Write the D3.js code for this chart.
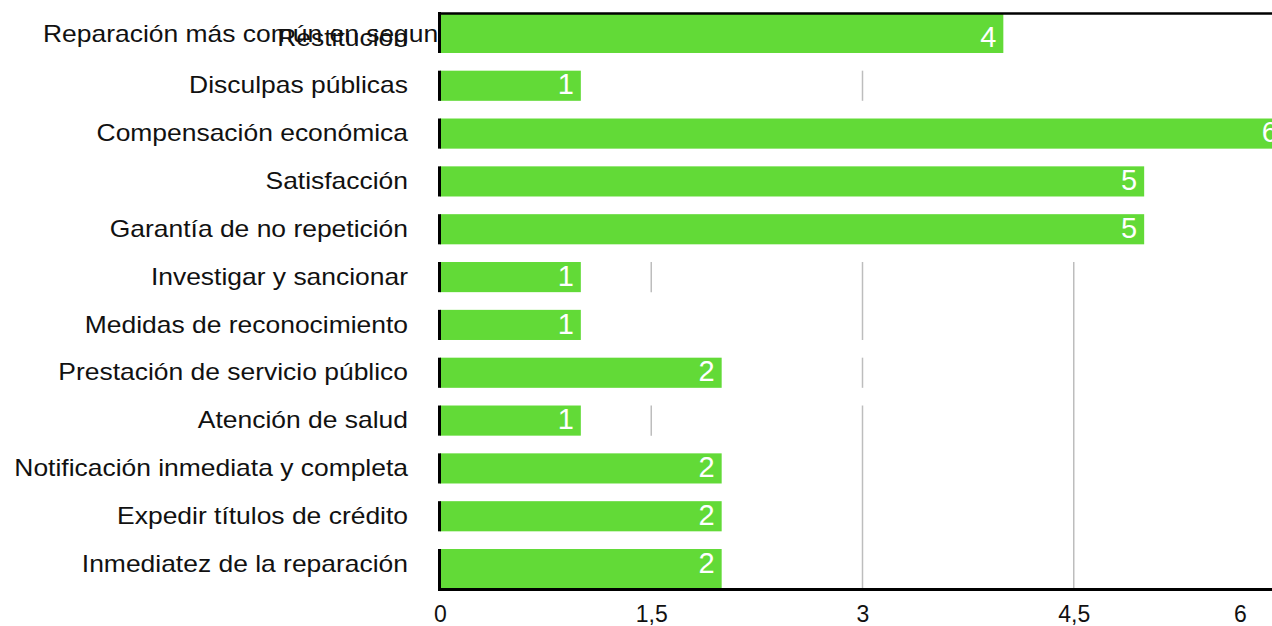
<!DOCTYPE html>
<html>
<head>
<meta charset="utf-8">
<script src="https://cdn.jsdelivr.net/npm/d3@7"></script>
<style>
  body { margin: 0; background: #fff; }
  svg { display: block; font-family: "Liberation Sans", Arial, sans-serif; }
</style>
</head>
<body>
<svg id="chart"></svg>
<script>
var title = "Reparación más común en segun";
var categories = ["Restitución", "Disculpas públicas", "Compensación económica", "Satisfacción",
  "Garantía de no repetición", "Investigar y sancionar", "Medidas de reconocimiento",
  "Prestación de servicio público", "Atención de salud", "Notificación inmediata y completa",
  "Expedir títulos de crédito", "Inmediatez de la reparación"];
var values = [4, 1, 6, 5, 5, 1, 1, 2, 1, 2, 2, 2];
var ticks = [0, 1.5, 3, 4.5, 6];
// gridline pieces that show in the picture: [tick, first row, last row]
var gridPieces = [[3, 1, 1], [3, 5, 6], [3, 7, 7], [3, 8, 11], [4.5, 5, 11], [1.5, 5, 5], [1.5, 8, 8]];

var width = 1272, height = 626;
var margin = {left: 440, top: 14, bottom: 588};
var green = "#62da37";
var stretch = 1.15;  // labels in the picture are drawn a bit wide

var svg = d3.select("#chart").attr("width", width).attr("height", height);

var x = d3.scaleLinear().domain([0, 6]).range([margin.left, 1285]);
var y = d3.scaleBand().domain(categories).range([margin.top, margin.bottom]).padding(0);
var barH = y.bandwidth() * 0.63;

// top and bottom of a bar; first and last bars stretch to the frame
function barTop(i) {
  return i === 0 ? margin.top : y(categories[i]) + (y.bandwidth() - barH) / 2;
}
function barBottom(i) {
  return i === categories.length - 1 ? margin.bottom : y(categories[i]) + (y.bandwidth() + barH) / 2;
}

// title, drawn first so bars sit on top
svg.append("text")
  .attr("transform", "translate(43,42) scale(" + stretch + ",1)")
  .style("font-size", "23px")
  .attr("fill", "#111")
  .text(title);

// gridlines
svg.append("g").selectAll("line")
  .data(gridPieces)
  .enter().append("line")
    .attr("x1", function(d) { return x(d[0]); })
    .attr("x2", function(d) { return x(d[0]); })
    .attr("y1", function(d) { return barTop(d[1]); })
    .attr("y2", function(d) { return barBottom(d[2]); })
    .attr("stroke", "#bdbdbd")
    .attr("stroke-width", 1.5);

// category labels
svg.append("g").selectAll("text")
  .data(categories)
  .enter().append("text")
    .attr("transform", function(d) {
      return "translate(408," + (y(d) + y.bandwidth() / 2 + 7.6) + ") scale(" + stretch + ",1)";
    })
    .attr("text-anchor", "end")
    .style("font-size", "23px")
    .attr("fill", "#111")
    .text(function(d) { return d; });

// bars
svg.append("g").selectAll("rect")
  .data(values)
  .enter().append("rect")
    .attr("x", x(0))
    .attr("y", function(d, i) { return barTop(i); })
    .attr("width", function(d) { return x(d) - x(0); })
    .attr("height", function(d, i) { return barBottom(i) - barTop(i); })
    .attr("fill", green);

// left axis pieces beside each bar
svg.append("g").selectAll("line")
  .data(values)
  .enter().append("line")
    .attr("x1", x(0) - 0.5).attr("x2", x(0) - 0.5)
    .attr("y1", function(d, i) { return i === 0 ? margin.top - 2 : barTop(i); })
    .attr("y2", function(d, i) { return barBottom(i); })
    .attr("stroke", "#000").attr("stroke-width", 3);

// value labels
svg.append("g").selectAll("text")
  .data(values)
  .enter().append("text")
    .attr("x", function(d) { return x(d) - 7; })
    .attr("y", function(d, i) { return y(categories[i]) + y.bandwidth() / 2 + 8.7; })
    .attr("text-anchor", "end")
    .style("font-size", "29px")
    .attr("fill", "#fff")
    .text(function(d) { return d; });

// top frame line
svg.append("line")
  .attr("x1", x(0) - 2).attr("x2", width)
  .attr("y1", 13.5).attr("y2", 13.5)
  .attr("stroke", "#000").attr("stroke-width", 2.5);

// x axis
var xAxis = d3.axisBottom(x)
  .tickValues(ticks)
  .tickSize(0)
  .tickFormat(function(d) { return String(d).replace(".", ","); });

var gx = svg.append("g")
  .attr("transform", "translate(0," + (margin.bottom + 1.5) + ")")
  .call(xAxis);
gx.select(".domain").remove();
gx.append("line")
  .attr("x1", x(0) - 2).attr("x2", width)
  .attr("stroke", "#000").attr("stroke-width", 3);
gx.selectAll(".tick text")
  .attr("y", 32.5).attr("dy", 0)
  .style("font-size", "23px")
  .style("font-family", "Liberation Sans, Arial, sans-serif")
  .attr("fill", "#111");
// keep the last label inside the picture
gx.selectAll(".tick")
  .filter(function(d) { return x(d) > width - 30; })
  .select("text")
  .attr("x", function(d) { return 1240 - x(d); });
</script>
</body>
</html>
